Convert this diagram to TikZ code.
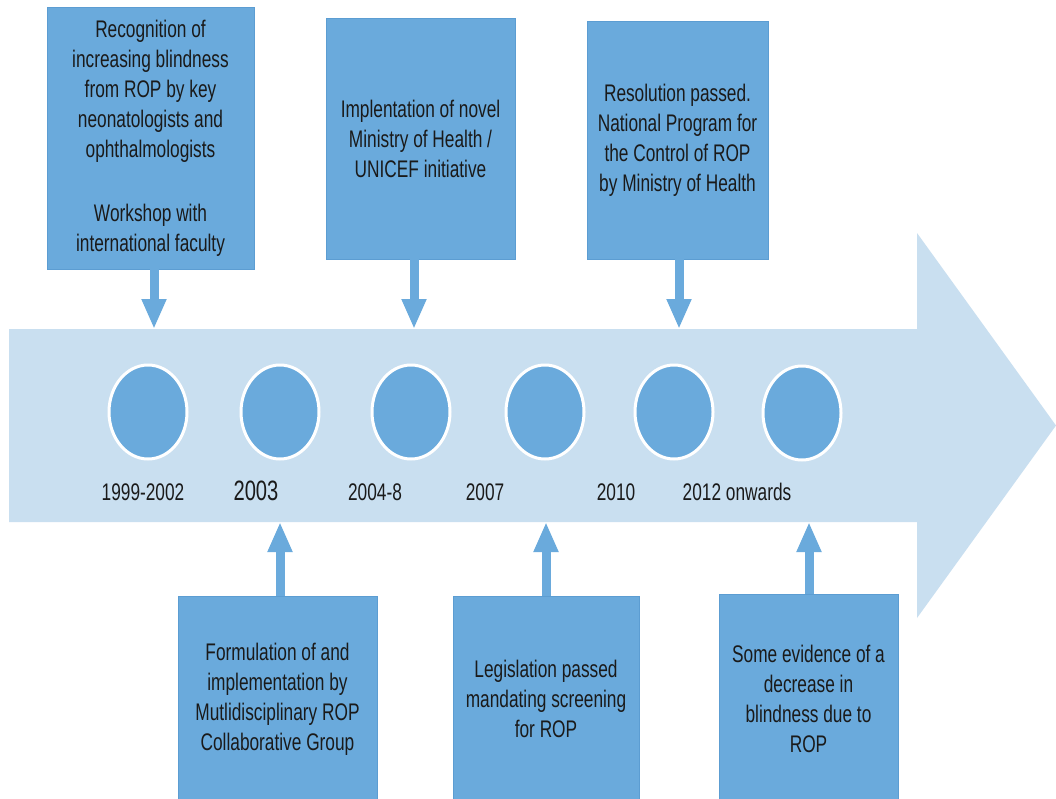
\documentclass[tikz,border=0pt]{standalone}
\usepackage{fontspec}
\setmainfont{Liberation Sans}[FakeStretch=0.72]
\usetikzlibrary{arrows.meta,shapes.geometric}
\definecolor{boxblue}{HTML}{6AAADC}
\definecolor{bandblue}{HTML}{C9DFF0}
\definecolor{edgeblue}{HTML}{5C9DD2}
\definecolor{inkc}{HTML}{1A1A1A}
\begin{document}
\begin{tikzpicture}[x=1pt,y=-1pt,
  box/.style={draw=edgeblue, line width=0.8pt, fill=boxblue, align=center,
    font=\fontsize{24}{30}\selectfont, inner sep=0pt, text=inkc},
  conn/.style={draw=boxblue, line width=9pt, -{Triangle[length=30pt,width=23pt]}},
  dot/.style={ellipse, fill=boxblue, draw=white, line width=3pt,
    minimum width=78pt, minimum height=94pt, inner sep=0pt},
  year/.style={font=\fontsize{24}{28}\selectfont, text=inkc},
  bigyear/.style={font=\fontsize{28}{32}\selectfont, text=inkc}]
\useasboundingbox (0,0) rectangle (1056,798);
\fill[white] (0,0) rectangle (1056,798);
% big timeline arrow
\fill[bandblue] (9,329) -- (917,329) -- (917,233) -- (1056,425.5) -- (917,618) -- (917,522) -- (9,522) -- cycle;
% circles
\node[dot] (c1) at (148,412) {};
\node[dot] (c2) at (280,412) {};
\node[dot] (c3) at (411,412) {};
\node[dot] (c4) at (545,412) {};
\node[dot] (c5) at (674,412) {};
\node[dot] (c6) at (802,413) {};
% years
\node[year] (y1) at (143,492) {1999-2002};
\node[bigyear] (y2) at (256,491) {2003};
\node[year] (y3) at (375,492) {2004-8};
\node[year] (y4) at (485,492) {2007};
\node[year] (y5) at (616,492) {2010};
\node[year] (y6) at (737,492) {2012 onwards};
% top boxes
\node[box, minimum width=207pt, minimum height=262pt] (b1) at (150.5,138)
  {Recognition of\\ increasing blindness\\ from ROP by key\\ neonatologists and\\ ophthalmologists\\[34pt] Workshop with\\ international faculty};
\node[box, minimum width=189pt, minimum height=241pt] (b2) at (420.5,138.5)
  {Implentation of novel\\ Ministry of Health /\\ UNICEF initiative};
\node[box, minimum width=181pt, minimum height=238pt] (b3) at (677.5,140)
  {Resolution passed.\\ National Program for\\ the Control of ROP\\ by Ministry of Health};
% bottom boxes
\node[box, minimum width=199pt, minimum height=206pt] (b4) at (277.5,699)
  {Formulation of and\\ implementation by\\ Mutlidisciplinary ROP\\ Collaborative Group};
\node[box, minimum width=186pt, minimum height=206pt] (b5) at (546,699)
  {Legislation passed\\ mandating screening\\ for ROP};
\node[box, minimum width=179pt, minimum height=210pt] (b6) at (808.5,699)
  {Some evidence of a\\ decrease in\\ blindness due to\\ ROP};
% connector ends on the band
\coordinate (t1) at (154,329);
\coordinate (t2) at (414,329);
\coordinate (t3) at (679,329);
\coordinate (t4) at (280,522);
\coordinate (t5) at (546,522);
\coordinate (t6) at (809,522);
\draw[conn] (b1.south -| t1) -- (t1);
\draw[conn] (b2.south -| t2) -- (t2);
\draw[conn] (b3.south -| t3) -- (t3);
\draw[conn] (b4.north -| t4) -- (t4);
\draw[conn] (b5.north -| t5) -- (t5);
\draw[conn] (b6.north -| t6) -- (t6);
\end{tikzpicture}
\end{document}
